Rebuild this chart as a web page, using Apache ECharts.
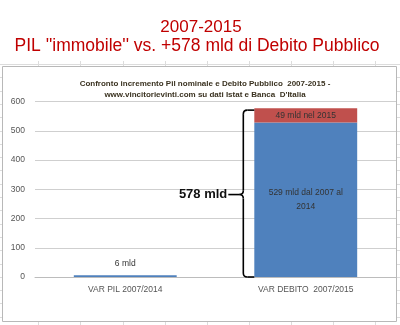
<!DOCTYPE html>
<html>
<head>
<meta charset="utf-8">
<script src="https://cdn.jsdelivr.net/npm/echarts@6/dist/echarts.min.js"></script>
<style>
  html, body { margin: 0; padding: 0; background: #ffffff; }
  #chart { width: 400px; height: 325px; }
</style>
</head>
<body>
<div id="chart"></div>
<script>
// Categories and values (billions of euro)
var categories = ['VAR PIL 2007/2014', 'VAR DEBITO  2007/2015'];
var growth20072014 = [6, 529];      // blue segment
var growth2015 = [null, 49];        // red segment stacked on top
var yTicks = { min: 0, max: 600, interval: 100 };

var debtTotal = growth20072014[1] + growth2015[1];

var chart = echarts.init(document.getElementById('chart'), null, { renderer: 'canvas' });

var labelFont = "'Liberation Sans Narrow', 'Liberation Sans', Arial, sans-serif";

// Worksheet grid lines behind the embedded chart
var sheet = [];
var colX = [38, 80, 123, 165, 207, 249, 291, 333, 375];
colX.forEach(function (x) {
  sheet.push({ type: 'line', silent: true, z: -10,
    shape: { x1: x + 0.5, y1: 61, x2: x + 0.5, y2: 325 },
    style: { stroke: '#dcdcdc', lineWidth: 1 } });
});
for (var ry = 64; ry < 325; ry += 13.3) {
  sheet.push({ type: 'line', silent: true, z: -10,
    shape: { x1: 0, y1: Math.round(ry) + 0.5, x2: 400, y2: Math.round(ry) + 0.5 },
    style: { stroke: '#dcdcdc', lineWidth: 1 } });
}
// Chart area
sheet.push({ type: 'rect', silent: true, z: -5,
  shape: { x: 2.5, y: 66.5, width: 394, height: 255 },
  style: { fill: '#ffffff', stroke: '#b8b8b8', lineWidth: 1 } });

chart.setOption({
  animation: false,
  backgroundColor: '#ffffff',
  title: [
    {
      text: '2007-2015',
      left: 196, top: 14, textAlign: 'center',
      textStyle: { color: '#c00000', fontSize: 17, fontWeight: 'normal', fontFamily: "'Liberation Sans', Arial, sans-serif" }
    },
    {
      text: "PIL ''immobile'' vs. +" + debtTotal + ' mld di Debito Pubblico',
      left: 192, top: 32, textAlign: 'center',
      textStyle: { color: '#c00000', fontSize: 17.5, fontWeight: 'normal', fontFamily: "'Liberation Sans', Arial, sans-serif" }
    },
    {
      text: 'Confronto incremento Pil nominale e Debito Pubblico  2007-2015 -\nwww.vincitorievinti.com su dati Istat e Banca  D\'Italia',
      left: 200, top: 73, textAlign: 'center',
      textStyle: { color: '#3a3220', fontSize: 8, fontWeight: 'bold', lineHeight: 11, fontFamily: labelFont }
    }
  ],
  grid: { left: 35, right: 4, top: 101.7, bottom: 48, containLabel: false },
  xAxis: {
    type: 'category',
    data: categories,
    axisLine: { lineStyle: { color: '#bcbcbc' } },
    axisTick: { show: false },
    axisLabel: { color: '#555555', fontSize: 8.5, margin: 8, fontFamily: labelFont }
  },
  yAxis: {
    type: 'value',
    min: yTicks.min, max: yTicks.max, interval: yTicks.interval,
    axisLine: { show: false },
    axisTick: { show: false },
    axisLabel: { color: '#555555', fontSize: 8.5, margin: 10, fontFamily: labelFont },
    splitLine: { lineStyle: { color: '#cfcfcf', width: 1 } }
  },
  series: [
    {
      type: 'bar',
      stack: 'debt',
      barWidth: '57%',
      itemStyle: { color: '#4f81bd' },
      data: [
        { value: growth20072014[0],
          label: { show: true, position: 'top', distance: 5,
            formatter: function (p) { return p.value + ' mld'; } } },
        { value: growth20072014[1],
          label: { show: true, position: 'inside',
            formatter: function (p) { return p.value + ' mld dal 2007 al\n2014'; } } }
      ],
      label: { color: '#333333', fontSize: 8.5, lineHeight: 14, fontFamily: labelFont }
    },
    {
      type: 'bar',
      stack: 'debt',
      barWidth: '57%',
      itemStyle: { color: '#c0504d' },
      data: growth2015,
      label: {
        show: true, position: 'inside', color: '#333333', fontSize: 8.5, fontFamily: labelFont,
        formatter: function (p) { return p.value + ' mld nel 2015'; }
      }
    }
  ],
  graphic: sheet
});

// Curly brace spanning the whole debt bar, positioned from the value scale
var pTop = chart.convertToPixel({ seriesIndex: 0 }, [1, debtTotal]);
var pBot = chart.convertToPixel({ seriesIndex: 0 }, [1, 0]);
var pMid = chart.convertToPixel({ seriesIndex: 0 }, [1, debtTotal / 2]);
var gridW = chart.getModel().getComponent('grid').coordinateSystem.getRect().width;
var barW = gridW / categories.length * 0.57;
var hookX = pTop[0] - barW / 2;
var sx = hookX - 11;
var r = 4;
var yT = pTop[1] + 2, yB = pBot[1], yM = pMid[1] + 2;
var tipX = sx - 15;

var braceStyle = { fill: null, stroke: '#000000', lineWidth: 1.6 };
function seg(x1, y1, x2, y2) {
  return { type: 'line', silent: true, z: 10, shape: { x1: x1, y1: y1, x2: x2, y2: y2 }, style: braceStyle };
}
function curve(x1, y1, cx, cy, x2, y2) {
  return { type: 'bezierCurve', silent: true, z: 10,
    shape: { x1: x1, y1: y1, cpx1: cx, cpy1: cy, x2: x2, y2: y2 }, style: braceStyle };
}
var brace = [
  seg(hookX, yT, sx + r, yT),
  curve(sx + r, yT, sx, yT, sx, yT + r),
  seg(sx, yT + r, sx, yM - r),
  curve(sx, yM - r, sx, yM, sx - r, yM),
  seg(sx - r, yM, tipX, yM),
  curve(sx - r, yM, sx, yM, sx, yM + r),
  seg(sx, yM + r, sx, yB - r),
  curve(sx, yB - r, sx, yB, sx + r, yB),
  seg(sx + r, yB, hookX, yB),
  { type: 'text', silent: true, z: 10,
    x: tipX - 1, y: yM,
    style: { text: debtTotal + ' mld', fill: '#111111', fontSize: 13, fontWeight: 'bold',
      fontFamily: "'Liberation Sans', Arial, sans-serif", align: 'right', verticalAlign: 'middle' } }
];

chart.setOption({ graphic: sheet.concat(brace) });
</script>
</body>
</html>
